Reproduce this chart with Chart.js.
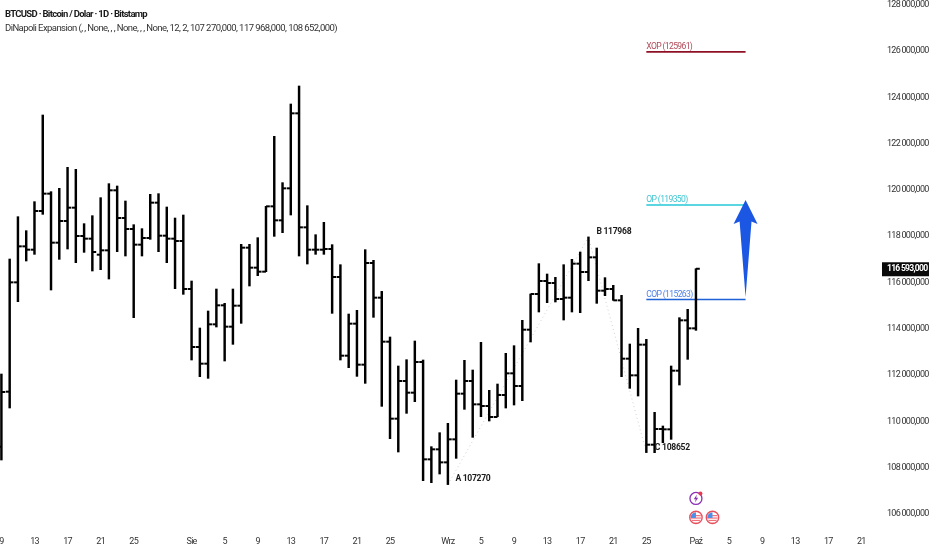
<!DOCTYPE html>
<html><head><meta charset="utf-8">
<style>html,body{margin:0;padding:0;background:#fff}canvas{display:block}</style>
<script src="https://cdn.jsdelivr.net/npm/chart.js@4"></script>
</head><body><canvas id="c" width="932" height="550"></canvas>
<script>
const opens=[108906,111283,116006,117561,117417,119088,119837,117720,118656,119232,118008,117893,117201,117389,119981,118785,118310,117634,117921,119448,118022,117893,117792,115718,113213,112493,114192,115013,114091,114998,117504,116640,116467,119289,118685,120067,123307,118382,117417,117417,117446,116237,112838,114221,112450,116841,115344,113443,110117,111744,111240,112565,108360,108792,108230,109224,111197,111744,110736,110664,110189,111139,112075,111528,113961,115502,116064,115977,115286,115344,116813,116453,117086,115646,115718,115229,112709,111989,113314,108993,109670,109656,112190,114365,114019];
const highs=[112046,117014,118843,118238,119491,123235,119923,120067,120974,120888,118541,118886,119664,120269,120168,119520,118497,118325,119808,119837,119261,118785,118915,116064,114033,114768,115718,115099,115718,117648,117648,117936,119289,122313,120312,123710,124488,119318,118065,118598,117634,116769,114638,114797,117417,116957,115617,113645,112392,112665,113472,112651,108907,109512,109915,111787,112637,112219,113414,111341,111614,112939,113270,114365,115502,116813,116366,116222,116769,117000,117317,117968,117489,116208,115877,115445,113342,114019,113544,110390,109800,112392,114480,114840,116597];
const lows=[108331,110578,115171,116928,117216,118944,115675,117000,117446,116856,117302,116496,116553,116150,117331,117144,114480,117144,117864,117331,116856,115733,115488,112651,111931,111859,114077,112608,113328,114235,115848,116294,116467,117993,118152,118915,117144,116798,117216,117216,114667,112651,112320,111945,111643,114494,110649,109253,108677,110347,110851,107438,107352,107726,107270,108403,110520,109310,110203,110016,110203,110577,110707,110894,113429,114725,115128,115157,114379,114725,114696,116078,115099,115430,115229,111931,111427,111096,108652,108648,109080,109224,111571,112680,113933];
const closes=[111269,116006,117561,117417,119088,119837,117720,118656,119232,118008,117893,117317,117389,119981,118785,118310,117634,117921,119448,118022,117893,117792,115718,113213,112493,114192,115013,114091,114998,117504,116640,116467,119289,118685,120067,123307,118382,117417,117417,117446,116237,112838,114221,112450,116841,115344,113443,110117,111744,111240,112565,108360,108792,108230,109224,111197,111744,110736,110664,110189,111139,112075,111528,113961,115502,116064,115977,115286,115344,116813,116453,117086,115646,115718,115229,112709,111989,113314,108993,109670,109656,112190,114365,114019,116593];
const xTickIdx=[0,4,8,12,16,23,27,31,35,39,43,47,54,58,62,66,70,74,78,84,88,92,96,100,104];
const xTickLabels=['9','13','17','21','25','Sie','5','9','13','17','21','25','Wrz','5','9','13','17','21','25','Paź','5','9','13','17','21'];
const yTickVals=[128000,126000,124000,122000,120000,118000,116000,114000,112000,110000,108000,106000];
const levelNames=['XOP (125961)','OP (119350)','COP (115263)'];
const levelVals=[125961,119350,115263];
const levelColors=['#8e1024','#22c8d8','#1f62d6'];
const levelTextColors=['#b04a58','#3cc6d2','#4f7fe8'];
const levelStart=[78,78,78];
const levelEnd=[90,90,90];
const pivotIdx=[54,71,78];
const pivotVals=[107270,117968,108652];
const pivotNames=['A 107270','B 117968','C 108652'];
const arrowX=[90,90.72,91.45,90,88.55,89.28];
const arrowY=[115373,118630,118526,119563,118526,118630];
const lastPrice=116593;
const eventIdx=[84,86];
const fmt=v=>{const s=String(v);return s.slice(0,3)+' '+s.slice(3)+',000';};
const BLACK='#000000';
const FONT='"Roboto",sans-serif';
const stems=highs.map((h,i)=>({x:i,y:[lows[i],h]}));
const tickOff=0.235;
const squeeze={id:'squeeze',beforeDraw(ch){ch.ctx.letterSpacing='-0.72px';}};
const annotate={id:'annotate',
 afterDatasetsDraw(ch){
  const {ctx,scales:{x,y}}=ch;
  ctx.save();
  ctx.fillStyle='#1b57e2';ctx.beginPath();
  arrowX.forEach((ax,i)=>{const px=x.getPixelForValue(ax),py=y.getPixelForValue(arrowY[i]);i?ctx.lineTo(px,py):ctx.moveTo(px,py);});
  ctx.closePath();ctx.fill();
  ctx.letterSpacing='-0.65px';
  ctx.font='8.6px '+FONT;ctx.textBaseline='alphabetic';
  levelNames.forEach((n,i)=>{ctx.fillStyle=levelTextColors[i];ctx.fillText(n,x.getPixelForValue(levelStart[i]),y.getPixelForValue(levelVals[i])-2.7);});
  ctx.letterSpacing='-0.3px';
  ctx.font='bold 8.6px '+FONT;ctx.fillStyle='#1c1c1c';ctx.textBaseline='middle';
  const dx=[7.5,8,8.5],dy=[-5.6,-5,-4.6];
  pivotNames.forEach((n,i)=>ctx.fillText(n,x.getPixelForValue(pivotIdx[i])+dx[i],y.getPixelForValue(pivotVals[i])+dy[i]));
  const ly=y.getPixelForValue(lastPrice);
  ctx.fillStyle='#0a0a0a';ctx.fillRect(882,ly-6.5,47,14);
  ctx.fillStyle='#fff';ctx.textBaseline='middle';
  ctx.letterSpacing='-0.75px';
  ctx.font='bold 8.6px '+FONT;ctx.fillText(fmt(lastPrice),887,ly+0.5);
  ctx.fillStyle='#1a1a1a';ctx.textBaseline='alphabetic';
  ctx.letterSpacing='-0.7px';
  ctx.font='bold 9.5px '+FONT;
  ctx.fillText('BTCUSD · Bitcoin / Dolar · 1D · Bitstamp',5,16.5);
  ctx.letterSpacing='-0.57px';
  ctx.fillStyle='#333';ctx.font='9.5px '+FONT;
  ctx.fillText('DiNapoli Expansion (, , None, , , None, , , None, 12, 2, 107 270,000, 117 968,000, 108 652,000)',5,30.5);
  const ex=x.getPixelForValue(eventIdx[0]),ey=y.getPixelForValue(106670);
  ctx.lineWidth=1.3;ctx.strokeStyle='#8a2fb8';ctx.beginPath();ctx.arc(ex,ey,6,0,Math.PI*2);ctx.stroke();
  ctx.fillStyle='#8a2fb8';ctx.beginPath();
  [[1,-4],[-2.2,0.8],[-0.2,0.8],[-1,4],[2.2,-0.8],[0.2,-0.8]].forEach((p,i)=>i?ctx.lineTo(ex+p[0],ey+p[1]):ctx.moveTo(ex+p[0],ey+p[1]));
  ctx.closePath();ctx.fill();
  ctx.fillStyle='#ee3a4e';ctx.beginPath();ctx.arc(ex+4.5,ey-5,2,0,Math.PI*2);ctx.fill();
  eventIdx.forEach(idx=>{
   const fx=x.getPixelForValue(idx),fy=y.getPixelForValue(105850);
   ctx.save();ctx.beginPath();ctx.arc(fx,fy,5.2,0,Math.PI*2);ctx.clip();
   ctx.fillStyle='#fff';ctx.fillRect(fx-7,fy-7,14,14);
   ctx.fillStyle='#f0707a';for(let k=-1;k<3;k++)ctx.fillRect(fx-7,fy+k*2.4,14,1.2);
   ctx.fillStyle='#4a90e8';ctx.fillRect(fx-7,fy-6,7,6.5);
   ctx.restore();
   ctx.lineWidth=1.4;ctx.strokeStyle='#e8505e';ctx.beginPath();ctx.arc(fx,fy,6.2,0,Math.PI*2);ctx.stroke();
  });
  ctx.restore();
 }};
const pivotData=pivotIdx.map((v,i)=>({x:v,y:pivotVals[i]}));
new Chart(document.getElementById('c'),{
 type:'bar',
 data:{datasets:[
  {type:'line',label:'ABC',data:pivotData,borderColor:'#cfcfcf',borderWidth:1,borderDash:[1,3],pointRadius:0,order:5},
  ...levelVals.map((v,i)=>({type:'line',label:levelNames[i],data:[{x:levelStart[i],y:v},{x:levelEnd[i],y:v}],borderColor:levelColors[i],borderWidth:1.6,pointRadius:0,order:4})),
  {type:'bar',label:'HL',data:stems,backgroundColor:BLACK,barThickness:1.8,order:3},
  {type:'scatter',label:'Open',data:opens.map((v,i)=>({x:i-tickOff,y:v})),pointStyle:'line',pointRadius:1.9,pointBorderWidth:2,borderColor:BLACK,pointBorderColor:BLACK,order:2},
  {type:'scatter',label:'Close',data:closes.map((v,i)=>({x:i+tickOff,y:v})),pointStyle:'line',pointRadius:1.9,pointBorderWidth:2,borderColor:BLACK,pointBorderColor:BLACK,order:2}
 ]},
 options:{responsive:false,animation:false,devicePixelRatio:1,
  layout:{padding:0,autoPadding:false},
  plugins:{legend:{display:false},tooltip:{enabled:false}},
  scales:{
   x:{type:'linear',min:-0.17,max:106.26,grid:{display:false,drawTicks:false},border:{display:false},offset:false,
    afterBuildTicks(s){s.ticks=xTickIdx.map(v=>({value:v}));},
    afterTickToLabelConversion(s){s.ticks.forEach((t,i)=>t.label=xTickLabels[i]);},
    afterFit(s){s.height=22;s.paddingLeft=0;s.paddingRight=0;},
    ticks:{autoSkip:false,maxRotation:0,padding:8,color:'#333',font:{family:FONT,size:9}}},
   y:{type:'linear',position:'right',min:105394,max:128203,grid:{display:false,drawTicks:false},border:{display:false},
    afterBuildTicks(s){s.ticks=yTickVals.map(v=>({value:v}));},
    afterFit(s){s.width=52;s.paddingTop=0;s.paddingBottom=0;},
    ticks:{autoSkip:false,padding:7,color:'#333',font:{family:FONT,size:9},callback:v=>fmt(v)}}
  }
 },
 plugins:[squeeze,annotate]
});
</script></body></html>
